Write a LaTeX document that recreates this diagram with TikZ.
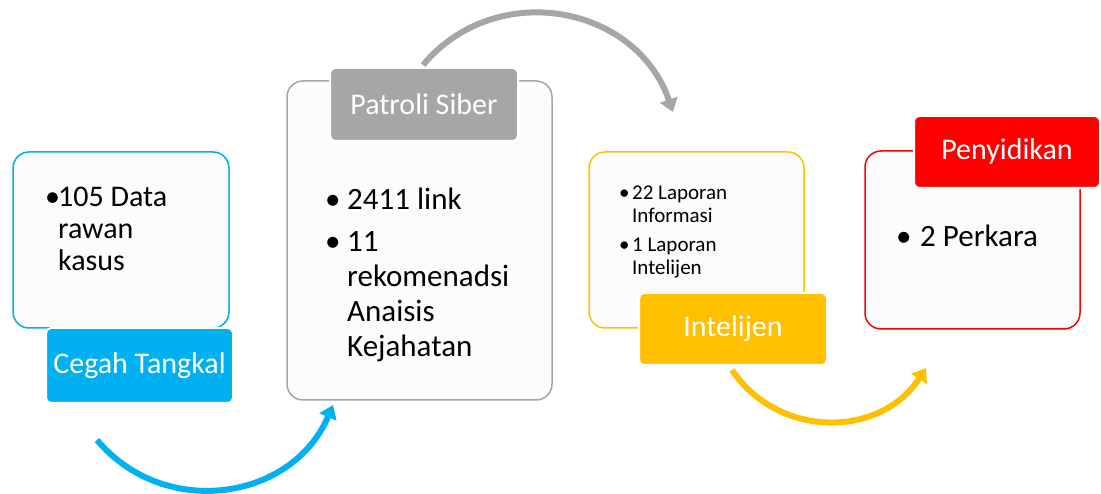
\documentclass[tikz,border=0pt]{standalone}
\usepackage{fontspec}
\setmainfont{Carlito}
\usetikzlibrary{arrows.meta}
\definecolor{cblue}{HTML}{00B0F0}
\definecolor{cgray}{HTML}{A6A6A6}
\definecolor{cyellow}{HTML}{FFC000}
\definecolor{cred}{HTML}{FF0000}
\definecolor{paper}{HTML}{FCFCFC}
\tikzset{
  panel/.style={draw=#1, line width=1.5pt, fill=paper, rounded corners=16pt, inner sep=0pt},
  tag/.style={fill=#1, draw=white, line width=2pt, rounded corners=5pt, text=white, inner sep=0pt, font=\fontsize{30}{34}\selectfont},
  flow/.style={draw=#1, line width=6pt, -{Triangle[length=13pt,width=18pt]}},
  body/.style={anchor=base west, inner sep=0pt, text=black},
}
\begin{document}
\begin{tikzpicture}[x=1pt,y=1pt]
\useasboundingbox (0,0) rectangle (1101,493);
% arrow end points
\coordinate (a1s) at (97,53);
\coordinate (a1e) at (333,88);
\coordinate (a2s) at (423,428);
\coordinate (a2e) at (673,381);
\coordinate (a3s) at (732,123);
\coordinate (a3e) at (926,125);
\draw[flow=cblue] (a1s) to[out=310,in=247,looseness=1.12] (a1e);
\draw[flow=cgray] (a2s) to[out=50,in=109,looseness=1.14] (a2e);
\draw[flow=cyellow] (a3s) to[out=304,in=237,looseness=1.1] (a3e);
% panels
\node[panel=cblue, minimum width=216pt, minimum height=176pt] (b1) at (121,253) {};
\node[panel=cgray, minimum width=265pt, minimum height=319pt] (b2) at (419.5,252.5) {};
\node[panel=cyellow, minimum width=215pt, minimum height=176pt] (b3) at (696.5,253) {};
\node[panel=cred, minimum width=215pt, minimum height=178pt] (b4) at (972.5,253) {};
% tags
\node[tag=cblue, minimum width=187pt, minimum height=75pt] (l1) at (139.5,127.5) {Cegah Tangkal};
\node[tag=cgray, minimum width=188pt, minimum height=73pt] (l2) at (424,388.5) {Patroli Siber};
\node[tag=cyellow, minimum width=188pt, minimum height=72pt] (l3) at (733,164) {Intelijen};
\node[tag=cred, minimum width=186pt, minimum height=72pt] (l4) at (1007,341) {Penyidikan};
% texts
\node[body] (t1) at (45,286) {\fontsize{30}{32}\selectfont\begin{tabular}[t]{@{}l@{}l@{}}\makebox[13pt][l]{•}&105 Data\\&rawan\\&kasus\end{tabular}};
\node[body] (t2) at (325,283) {\fontsize{31}{35}\selectfont\begin{tabular}[t]{@{}l@{}l@{}}\makebox[22pt][l]{•}&2411 link\\[7pt]•&11\\&rekomenadsi\\&Anaisis\\&Kejahatan\end{tabular}};
\node[body] (t3) at (619,293) {\fontsize{21}{23}\selectfont\begin{tabular}[t]{@{}l@{}l@{}}\makebox[13pt][l]{•}&22 Laporan\\&Informasi\\[6pt]•&1 Laporan\\&Intelijen\end{tabular}};
\node[body] (t4) at (896,246) {\fontsize{31}{34}\selectfont\begin{tabular}[t]{@{}l@{}l@{}}\makebox[24pt][l]{•}&2 Perkara\end{tabular}};
\end{tikzpicture}
\end{document}
